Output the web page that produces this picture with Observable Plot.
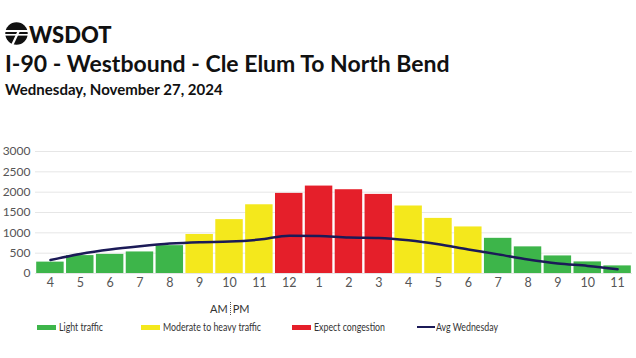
<!DOCTYPE html>
<html><head><meta charset="utf-8">
<script src="https://cdn.jsdelivr.net/npm/d3@7"></script>
<script src="https://cdn.jsdelivr.net/npm/@observablehq/plot@0.6"></script>
<style>
body{margin:0;background:#fff;font-family:Lato,"Open Sans",sans-serif;}
#wrap{position:relative;width:636px;height:358px;overflow:hidden;}
.abs{position:absolute;white-space:nowrap;}
#title{left:5px;top:49px;font-size:23px;font-weight:700;color:#111;}
#sub{left:5px;top:80px;font-size:15px;font-weight:700;color:#111;}
#logotext{left:29px;top:21px;font-size:22px;font-weight:900;color:#111;letter-spacing:0px;}
#chart{left:0;top:140px;}
#ampm{left:210px;top:302px;font-size:11px;color:#333;}
.leg{top:320px;font-size:11px;color:#333;}
.lt{display:inline-block;transform:scaleX(0.8);transform-origin:left center;}
.sw{display:inline-block;width:19px;height:5px;vertical-align:middle;margin-right:3px;position:relative;top:-1px;}
</style></head>
<body><div id="wrap">
<svg class="abs" style="left:5px;top:22px" width="23" height="23" viewBox="0 0 23 23">
<circle cx="11.5" cy="11.5" r="11.2" fill="#111"/>
<rect x="0" y="8" width="23" height="2" fill="#fff"/>
<rect x="0" y="12" width="23" height="1.6" fill="#fff"/>
<path d="M13 8 L6 23 L8.5 23 L15.5 8 Z" fill="#fff"/>
</svg>
<div id="logotext" class="abs">WSDOT</div>
<div id="title" class="abs">I-90 - Westbound - Cle Elum To North Bend</div>
<div id="sub" class="abs">Wednesday, November 27, 2024</div>
<div id="chart" class="abs"></div>
<div id="ampm" class="abs">AM<span style="border-left:1px dotted #555;margin:0 2px;"></span>PM</div>
<div id="legend"></div>
</div>
<script>
const hours = [4,5,6,7,8,9,10,11,12,13,14,15,16,17,18,19,20,21,22,23];
const hourLabels = ["4","5","6","7","8","9","10","11","12","1","2","3","4","5","6","7","8","9","10","11"];
const volumes = [280,440,470,530,685,960,1325,1690,1970,2150,2060,1945,1660,1355,1145,865,655,432,285,187];
const levels = ["Light","Light","Light","Light","Light","Moderate","Moderate","Moderate","Congestion","Congestion","Congestion","Congestion","Moderate","Moderate","Moderate","Light","Light","Light","Light","Light"];
const avgWednesday = [330,480,590,670,735,770,785,834,930,922,883,873,817,719,589,470,343,245,187,105];
const yTicks = [0,500,1000,1500,2000,2500,3000];
const levelNames = ["Light","Moderate","Congestion"];
const levelColors = ["#3db54a","#f4e81c","#e51f2a"];
const legendLabels = ["Light traffic","Moderate to heavy traffic","Expect congestion","Avg Wednesday"];
const lineColor = "#1b1a57";

const bars = hours.map((h,i)=>({h, v:volumes[i], level:levels[i]}));
const avg = hours.map((h,i)=>({h, v:avgWednesday[i]}));
const fmtX = d => hourLabels[hours.indexOf(d)];

const chart = Plot.plot({
  width:636, height:155,
  marginLeft:35, marginRight:4, marginTop:11, marginBottom:22,
  style:{fontFamily:"Lato, sans-serif", fontSize:"12px", color:"#555", background:"transparent"},
  x:{type:"band", domain:hours, paddingInner:0.08, paddingOuter:0.04, round:false, label:null},
  y:{domain:[0,3000], label:null},
  color:{domain:levelNames, range:levelColors},
  marks:[
    Plot.gridY(yTicks,{stroke:"#e6e6e6", strokeOpacity:1}),
    Plot.barY(bars,{x:"h", y:"v", fill:"level"}),
    Plot.line(avg,{x:"h", y:"v", stroke:lineColor, strokeWidth:2.5, curve:"monotone-x"}),
    Plot.axisX({tickSize:0, tickPadding:5, tickFormat:fmtX, fontSize:12.5, fill:"#555"}),
    Plot.axisY(yTicks,{tickSize:0, tickPadding:5, tickFormat:d3.format("d"), fontSize:12, fill:"#555"})
  ]
});
document.getElementById("chart").appendChild(chart);

const legPos = [37,141,292,417];
const leg = document.getElementById("legend");
legendLabels.forEach((lab,i)=>{
  const d = document.createElement("div");
  d.className = "abs leg";
  d.style.left = legPos[i]+"px";
  const sw = document.createElement("span");
  sw.className = "sw";
  if(i<3){ sw.style.background = levelColors[i]; }
  else { sw.style.height="2px"; sw.style.background = lineColor; sw.style.width="18px"; sw.style.marginRight="1px"; }
  d.appendChild(sw);
  const t = document.createElement("span");
  t.className = "lt";
  t.textContent = lab;
  d.appendChild(t);
  leg.appendChild(d);
});
</script>
</body></html>
